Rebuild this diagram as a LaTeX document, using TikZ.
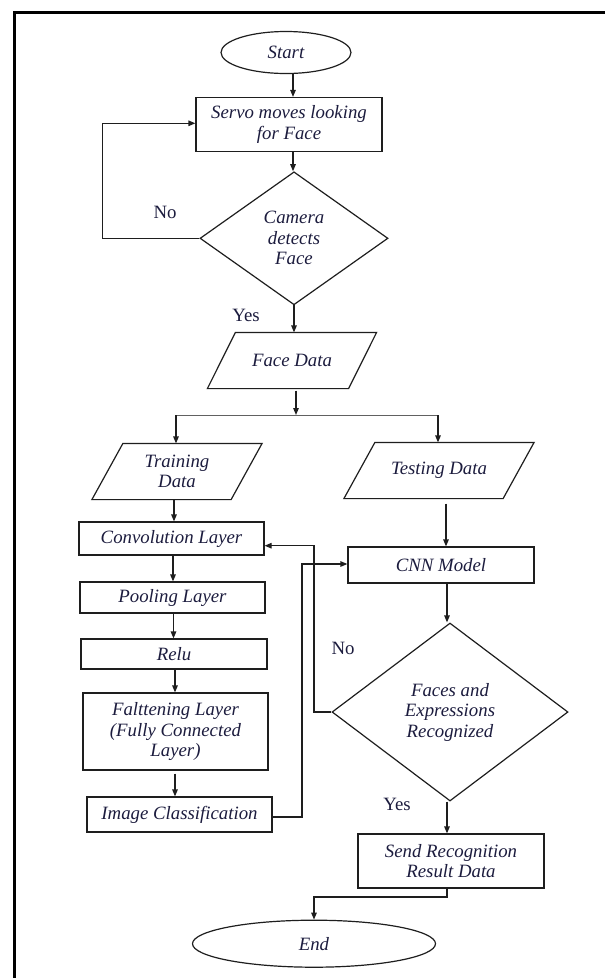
\documentclass[tikz,border=0pt]{standalone}
\usepackage{fontspec}
\setmainfont{Liberation Serif}
\usetikzlibrary{arrows.meta,shapes.geometric,calc}
\definecolor{ink}{RGB}{28,28,62}
\definecolor{edge}{RGB}{30,30,30}
\tikzset{
  base/.style={draw=edge, line width=1.2pt, text=ink, inner sep=0pt, align=center,
    font=\fontsize{18.8}{20.5}\selectfont\itshape},
  procbox/.style={base, rectangle, minimum width=#1},
  oval/.style={base, ellipse},
  decision/.style={base, diamond, aspect=1.3},
  iobox/.style={base, draw=none, rectangle},
  arr/.style={draw=edge, line width=1.2pt, -{Triangle[length=7pt,width=5.5pt]}},
  wire/.style={draw=edge, line width=1.2pt},
  answer/.style={text=ink, font=\fontsize{18.8}{20.5}\selectfont, inner sep=0pt},
}
% parallelogram drawn around an invisible node: #1 node, #2 half slant
\newcommand{\slantbox}[2]{%
  \draw[draw=edge, line width=1.2pt]
    ($(#1.south west)+(-#2,0)$) -- ($(#1.north west)+(#2,0)$) --
    ($(#1.north east)+(#2,0)$) -- ($(#1.south east)+(-#2,0)$) -- cycle;}
% vertical arrow leaving node #1 (shifted by #2 horizontally, #3 down) into the top of node #4
\newcommand{\flowdown}[4]{%
  \coordinate (tmpfrom) at ($(#1.south)+(#2,#3)$);
  \draw[arr] (tmpfrom) -- (tmpfrom |- #4.north);}
\begin{document}
\begin{tikzpicture}[x=1pt, y=-1pt]
\useasboundingbox (0,0) rectangle (605,978);
\clip (0,0) rectangle (605,978);
\fill[white] (0,0) rectangle (605,978);
% page frame
\draw[line width=2.6pt, black] (14.5,12.5) rectangle (640,1010);

% upper flow
\node[oval, minimum width=130pt, minimum height=42pt] (start) at (286,52.5) {Start};
\node[procbox=186pt, minimum height=54pt] (servo) at (289,124.5) {Servo moves looking\\for Face};
\node[decision, minimum width=188pt, minimum height=133pt] (cam) at (294,238.3) {Camera\\detects\\Face};
\node[iobox, minimum width=140pt, minimum height=55pt] (face) at (292,360.5) {Face Data};
\slantbox{face}{14pt}

% branch point
\coordinate (split) at (296,415);
\coordinate (splitL) at (176,415);
\coordinate (splitR) at (438,415);

\node[iobox, minimum width=138pt, minimum height=55pt] (train) at (177,471.5) {Training\\Data};
\slantbox{train}{15.5pt}
\node[iobox, minimum width=158pt, minimum height=55pt] (test) at (439,470.5) {Testing Data};
\slantbox{test}{15.5pt}

% training column
\node[procbox=185pt, minimum height=33pt] (conv) at (171.5,538.5) {Convolution Layer};
\node[procbox=185pt, minimum height=31pt] (pool) at (172.5,597.5) {Pooling Layer};
\node[procbox=186pt, minimum height=30pt] (relu) at (174,654) {Relu};
\node[procbox=185pt, minimum height=77pt] (flat) at (175.5,731.5) {Falttening Layer\\(Fully Connected\\Layer)};
\node[procbox=185pt, minimum height=35pt] (imgc) at (179.5,814.5) {Image Classification};

% testing column
\node[procbox=186pt, minimum height=36pt] (cnn) at (441,565) {CNN Model};
\node[decision, minimum width=236pt, minimum height=178pt] (rec) at (450,712) {Faces and\\Expressions\\Recognized};
\node[procbox=186pt, minimum height=54pt] (send) at (451,861) {Send Recognition\\Result Data};
\node[oval, minimum width=243pt, minimum height=47pt] (end) at (314,943.7) {End};

% answer labels
\node[answer] (no1) at (165,212) {No};
\node[answer] (yes1) at (246,315) {Yes};
\node[answer] (no2) at (343,648) {No};
\node[answer] (yes2) at (397,804) {Yes};

% connectors
\flowdown{start}{7}{0}{servo}
\flowdown{servo}{4}{0}{cam}
\coordinate (loopA) at (102.7,238.3);
\coordinate (loopB) at (102.7,123.3);
\draw[arr] (cam.west) -- (loopA) -- (loopB) -- (servo.west |- loopB);
\draw[arr] (cam.south) -- (cam.south |- face.north);
\coordinate (faceout) at ($(face.south)+(4,2)$);
\draw[arr] (faceout) -- (faceout |- split);
\draw[wire, line width=0.9pt, draw=edge!70] (splitL) -- (splitR);
\draw[arr] (splitL) -- (splitL |- train.north);
\draw[arr] (splitR) -- (splitR |- test.north);

\flowdown{train}{-3}{0}{conv}
\flowdown{conv}{1.5}{0}{pool}
\flowdown{pool}{1}{0}{relu}
\flowdown{relu}{1}{0}{flat}
\flowdown{flat}{-0.5}{3}{imgc}

\flowdown{test}{7}{5}{cnn}
\flowdown{cnn}{6}{0}{rec}
\flowdown{rec}{-3}{0}{send}
\coordinate (sendout) at ($(send.south)+(-4,0)$);
\coordinate (sendTurn) at (447,897);
\draw[arr] (sendout) -- (sendTurn) -- (sendTurn -| end.north) -- (end.north);

% feedback lines between the two columns
\coordinate (noA) at (314,712);
\coordinate (noB) at (314,545.7);
\draw[arr] (rec.west) -- (noA) -- (noB) -- (conv.east |- noB);
\coordinate (clsA) at (302,817);
\coordinate (clsB) at (302,564);
\draw[arr] (imgc.east |- clsA) -- (clsA) -- (clsB) -- (cnn.west |- clsB);
\end{tikzpicture}
\end{document}
